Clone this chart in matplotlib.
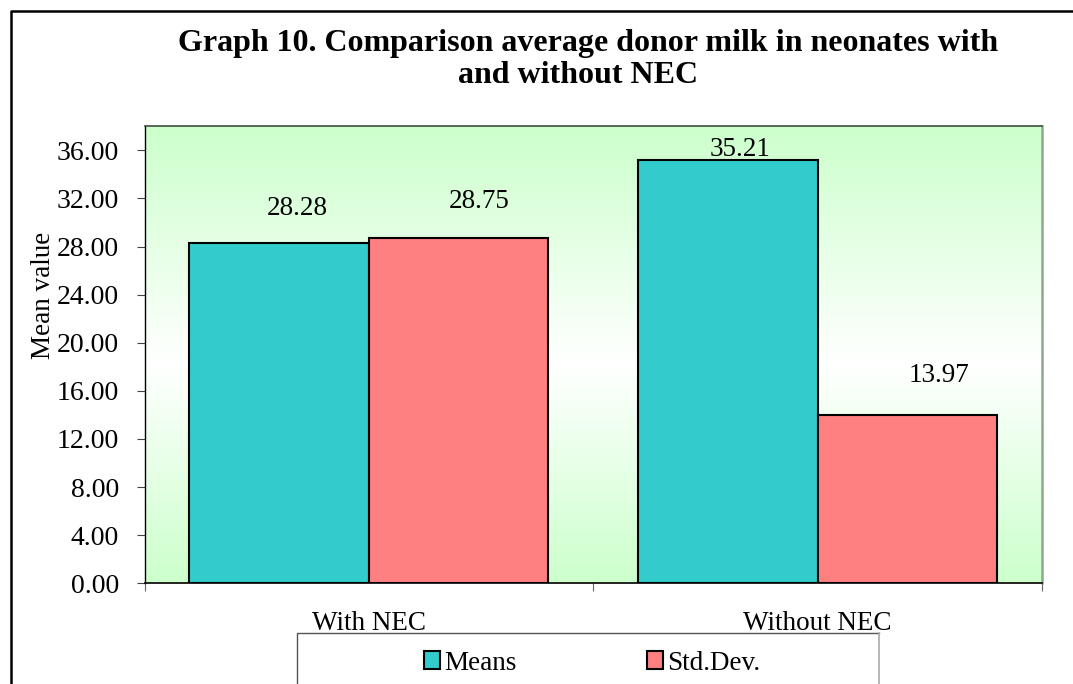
import numpy as np
import matplotlib
matplotlib.use("Agg")
import matplotlib.pyplot as plt
from matplotlib.colors import LinearSegmentedColormap
from matplotlib.lines import Line2D

# Data
categories = ["With NEC", "Without NEC"]
means = [28.28, 35.21]
std_devs = [28.75, 13.97]
series_names = ["Means", "Std.Dev."]
y_ticks = [0, 4, 8, 12, 16, 20, 24, 28, 32, 36]
title_lines = ["Graph 10. Comparison average donor milk in neonates with",
               "and without NEC"]

W, H = 1073, 684
plt.rcParams["font.family"] = ["Liberation Serif", "DejaVu Serif"]

fig = plt.figure(figsize=(W / 100, H / 100), dpi=100)


def px(x0, y0, x1, y1):
    """Pixel box (left, top, right, bottom) -> figure fraction rect."""
    return [x0 / W, 1 - y1 / H, (x1 - x0) / W, (y1 - y0) / H]


ax = fig.add_axes(px(144.5, 126.3, 1042, 583.3))
ax.set_xlim(-0.5, 1.5)
ax.set_ylim(0, 38)

# green -> white -> green background
cmap = LinearSegmentedColormap.from_list(
    "bg", [(0.0, "#CCFFCC"), (0.48, "#FFFFFF"), (1.0, "#CCFFCC")])
grad = np.linspace(0, 1, 256).reshape(-1, 1)
ax.imshow(grad, aspect="auto", cmap=cmap, extent=(-0.5, 1.5, 0, 38),
          origin="lower", zorder=0)

x = np.arange(len(categories))
width = 0.4
b1 = ax.bar(x - width / 2, means, width, color="#33CCCC", edgecolor="black",
            linewidth=1.5, zorder=2, label=series_names[0])
b2 = ax.bar(x + width / 2, std_devs, width, color="#FF8080", edgecolor="black",
            linewidth=1.5, zorder=2, label=series_names[1])

# value labels (pixel offsets from each bar's top centre)
label_offsets = [[(18, 28), (12, 4)], [(21, 30), (32, 33)]]
for bars, offs in zip((b1, b2), label_offsets):
    for rect, (dx, dy) in zip(bars, offs):
        v = rect.get_height()
        ax.annotate(f"{v:.2f}", (rect.get_x() + rect.get_width() / 2, v),
                    xytext=(dx, dy), textcoords="offset pixels",
                    ha="center", va="baseline", fontsize=19.5, zorder=3)

# axes styling
ax.set_yticks(y_ticks)
ax.set_yticklabels([f"{t:.2f}" for t in y_ticks], fontsize=20)
ax.tick_params(axis="y", direction="out", length=5.8, width=0.8,
               color="#444444", pad=12.5)
ax.set_xticks(x)
ax.set_xticklabels(categories, fontsize=19.5)
ax.tick_params(axis="x", which="major", length=0, pad=20)
ax.set_xticks([-0.5, 0.5, 1.5], minor=True)
ax.tick_params(axis="x", which="minor", direction="out", length=6,
               width=0.8, color="#666666")

ax.spines["left"].set_color("black")
ax.spines["left"].set_linewidth(1.0)
ax.spines["bottom"].set_color("black")
ax.spines["bottom"].set_linewidth(1.2)
ax.spines["top"].set_color("#404A40")
ax.spines["top"].set_linewidth(1.2)
ax.spines["right"].set_color("#8FA88F")
ax.spines["right"].set_linewidth(1.8)

# title (two centred lines) and y label
for line, (cx, base) in zip(title_lines, [(588, 51), (578, 83)]):
    fig.text(cx / W, 1 - base / H, line, ha="center", va="baseline",
             fontsize=23, fontweight="bold")
fig.text(44 / W, 1 - 295 / H, "Mean value", rotation=90, ha="center",
         va="center", fontsize=19.5)

# outer frame (runs past the right and bottom edges)
fig.add_artist(Line2D([11 / W, 11 / W, 1.05], [-0.05, 1 - 11 / H, 1 - 11 / H],
                      transform=fig.transFigure, color="black", lw=1.8))

# legend box
fig.add_artist(Line2D([297 / W, 297 / W, 879 / W],
                      [-0.05, 1 - 633 / H, 1 - 633 / H],
                      transform=fig.transFigure, color="#555555", lw=1.0,
                      zorder=1))
fig.add_artist(Line2D([879 / W, 879 / W], [1 - 633 / H, -0.05],
                      transform=fig.transFigure, color="#AAAAAA", lw=1.2,
                      zorder=1))
leg = fig.legend(handles=[b1, b2], labels=series_names, loc="center",
                 bbox_to_anchor=(592 / W, 1 - 663 / H), ncol=2,
                 frameon=False, fontsize=19.5, handlelength=0.6,
                 handleheight=0.6, handletextpad=0.15, columnspacing=4.8,
                 borderpad=0, borderaxespad=0)

fig.savefig("out.png", dpi=100)
